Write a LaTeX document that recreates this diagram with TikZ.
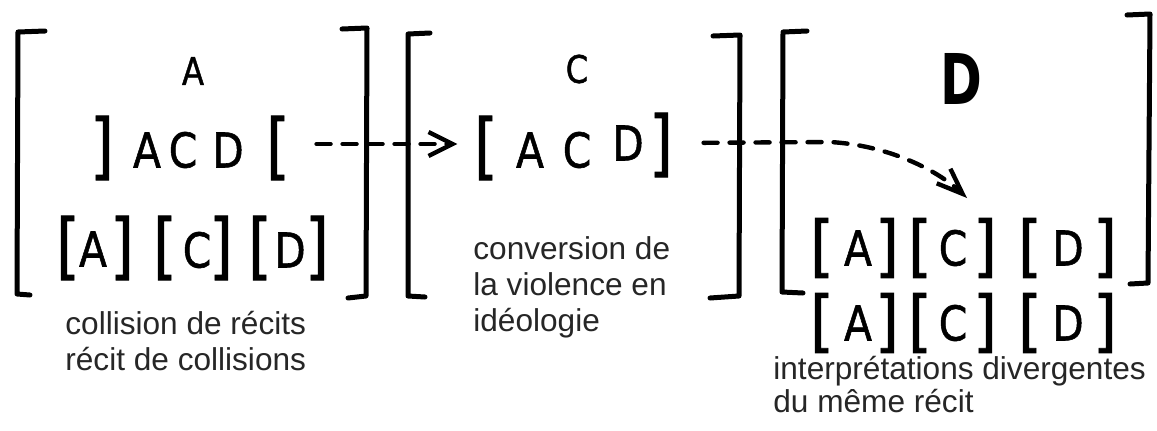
\documentclass[tikz,border=0pt]{standalone}
\usepackage{fontspec}
\usepackage{graphicx}
\setmainfont{Liberation Sans}
\newfontface\hw[FakeBold=1.2]{DejaVu Sans}
\newfontfamily\hwd{DejaVu Sans}
\usetikzlibrary{arrows.meta}
\newcommand\Lb{\scalebox{1.3}[1.5]{[}}
\newcommand\Rb{\scalebox{1.3}[1.5]{]}}
\newcommand\Lbs{\scalebox{1.3}[1.4]{[}}
\newcommand\Rbs{\scalebox{1.3}[1.4]{]}}
\newcommand\Lt[1]{\scalebox{0.85}[1]{#1}}
\tikzset{
  glyph/.style={inner sep=0pt, font=\hw\fontsize{24}{24}\selectfont},
  topglyph/.style={inner sep=0pt, font=\hw\fontsize{19}{19}\selectfont},
  lab/.style={inner sep=0pt, anchor=base west, align=left, text=black!85, font=\fontsize{15.8}{17.8}\selectfont},
  bigbr/.style={line width=2.5pt, line cap=round, line join=round},
  dsh/.style={line width=2.2pt, dash pattern=on 7pt off 6pt, line cap=round},
}
\begin{document}
\begin{tikzpicture}[x=0.5pt,y=-0.5pt]
\fill[white] (0,0) rectangle (1157,430);
\useasboundingbox (0,0) rectangle (1157,430);
% big brackets
\draw[bigbr] (45,31) -- (18,32) -- (17,294) -- (30,295);
\draw[bigbr] (342,29) -- (367,28) -- (366,296) -- (348,298);
\draw[bigbr] (430,33) -- (408,34) -- (408,296) -- (425,297);
\draw[bigbr] (713,36) -- (740,35) -- (739,296) -- (710,298);
\draw[bigbr] (807,31) -- (783,32) -- (782,292) -- (803,293);
\draw[bigbr] (1127,15) -- (1150,14) -- (1148,283) -- (1130,284);
% bracket 1
\node[topglyph] (b1top) at (193,71) {\Lt{A}};
\node[glyph] (b1r2a) at (102,148) {\Rb};
\node[glyph] (b1r2b) at (147,150) {\Lt{A}};
\node[glyph] (b1r2c) at (183,150) {\Lt{C}};
\node[glyph] (b1r2d) at (228,150) {\Lt{D}};
\node[glyph] (b1r2e) at (278,148) {\Lb};
\node[glyph] (b1r3a) at (68,248) {\Lb};
\node[glyph] (b1r3b) at (93,249) {\Lt{A}};
\node[glyph] (b1r3c) at (122,248) {\Rb};
\node[glyph] (b1r3d) at (165,248) {\Lb};
\node[glyph] (b1r3e) at (197,250) {\Lt{C}};
\node[glyph] (b1r3f) at (221,248) {\Rb};
\node[glyph] (b1r3g) at (260,248) {\Lb};
\node[glyph] (b1r3h) at (290,250) {\Lt{D}};
\node[glyph] (b1r3i) at (317,248) {\Rb};
% bracket 2
\node[topglyph] (b2top) at (577,69) {\Lt{C}};
\node[glyph] (b2r2a) at (486,148) {\Lb};
\node[glyph] (b2r2b) at (530,150) {\Lt{A}};
\node[glyph] (b2r2c) at (577,150) {\Lt{C}};
\node[glyph] (b2r2d) at (628,143) {\Lt{D}};
\node[glyph] (b2r2e) at (661,145) {\Rb};
% bracket 3
\node[inner sep=0pt, font=\hwd\bfseries\fontsize{35}{35}\selectfont] (b3top) at (961,79) {\scalebox{0.72}[1]{D}};
\foreach \r/\yy in {r2/248, r3/323}{
  \node[glyph] (b3\r a) at (822,\yy) {\Lbs};
  \node[glyph] (b3\r b) at (858,\yy) {\Lt{A}};
  \node[glyph] (b3\r c) at (887,\yy) {\Rbs};
  \node[glyph] (b3\r d) at (920,\yy) {\Lbs};
  \node[glyph] (b3\r e) at (953,\yy) {\Lt{C}};
  \node[glyph] (b3\r f) at (985,\yy) {\Rbs};
  \node[glyph] (b3\r g) at (1030,\yy) {\Lbs};
  \node[glyph] (b3\r h) at (1068,\yy) {\Lt{D}};
  \node[glyph] (b3\r i) at (1105,\yy) {\Rbs};
}
% arrows
\coordinate (bend3) at (830,142);
\coordinate (tip3) at (967,198);
\draw[dsh, -{Straight Barb[length=12pt,width=12pt,line width=2.2pt]}, shorten <=13pt, shorten >=8pt]
  ([yshift=2pt]b1r2e.east) -- ([yshift=2pt]b2r2a.west);
\draw[dsh, -{Straight Barb[length=13pt,width=10pt,line width=2.2pt]}, shorten <=15pt]
  ([yshift=1pt]b2r2e.east) -- (bend3) .. controls (885,145) and (935,168) .. (tip3);
% labels (anchor = baseline of last line)
\node[lab] (lab1) at (65,370) {collision de récits\\récit de collisions};
\node[lab] (lab2) at (473,331) {conversion de\\la violence en\\idéologie};
\node[lab, font=\fontsize{15.8}{16.3}\selectfont] (lab3) at (773,412) {interprétations divergentes\\du même récit};
\end{tikzpicture}
\end{document}
